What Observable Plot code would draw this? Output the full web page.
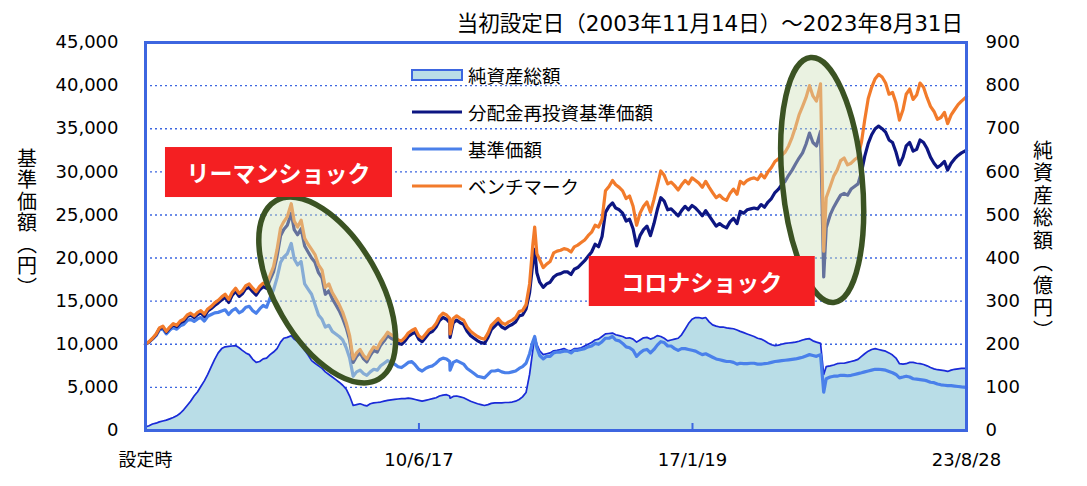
<!DOCTYPE html>
<html><head><meta charset="utf-8">
<script src="https://cdn.jsdelivr.net/npm/d3@7"></script>
<script src="https://cdn.jsdelivr.net/npm/@observablehq/plot@0.6"></script>
<style>
body{margin:0;background:#fff;}
#chart{width:1087px;height:486px;}
</style></head><body><div id="chart"></div>
<script>
// ---- data ----
const dates = [
"2003-11-14","2003-12-15",
"2004-01-15","2004-02-15","2004-03-15","2004-04-15","2004-05-15","2004-06-15","2004-07-15","2004-08-15","2004-09-15","2004-10-15","2004-11-15","2004-12-15",
"2005-01-15","2005-02-15","2005-03-15","2005-04-15","2005-05-15","2005-06-15","2005-07-15","2005-08-15","2005-09-15","2005-10-15","2005-11-15","2005-12-15",
"2006-01-15","2006-02-15","2006-03-15","2006-04-15","2006-05-15","2006-06-15","2006-07-15","2006-08-15","2006-09-15","2006-10-15","2006-11-15","2006-12-15",
"2007-01-15","2007-02-15","2007-03-15","2007-04-15","2007-05-20","2007-06-15","2007-07-15","2007-08-15","2007-09-15","2007-10-15","2007-11-15","2007-12-15",
"2008-01-15","2008-02-15","2008-03-15","2008-04-15","2008-05-15","2008-06-15","2008-07-15","2008-08-15","2008-09-15","2008-10-15","2008-11-15","2008-12-15",
"2009-01-15","2009-02-15","2009-03-15","2009-04-15","2009-05-15","2009-06-15","2009-07-15","2009-08-15","2009-09-15","2009-10-15","2009-11-15","2009-12-15",
"2010-01-15","2010-02-15","2010-03-15","2010-04-15","2010-05-15","2010-06-15","2010-07-15","2010-08-15","2010-09-15","2010-10-15","2010-11-15","2010-12-15",
"2011-01-15","2011-02-15","2011-03-15","2011-03-18","2011-04-15","2011-05-15","2011-06-15","2011-07-15","2011-08-15","2011-09-15","2011-10-15","2011-11-15","2011-12-15",
"2012-01-15","2012-02-15","2012-03-15","2012-04-15","2012-05-15","2012-06-15","2012-07-15","2012-08-15","2012-09-15","2012-10-15","2012-11-15","2012-12-15",
"2013-01-15","2013-02-15","2013-03-15","2013-04-01","2013-04-20","2013-05-15","2013-06-15","2013-07-15","2013-08-15","2013-09-15","2013-10-15","2013-11-15","2013-12-15",
"2014-01-15","2014-02-15","2014-03-15","2014-04-15","2014-05-15","2014-06-15","2014-07-15","2014-08-15","2014-09-15","2014-10-15","2014-11-15","2014-12-15",
"2015-01-15","2015-02-15","2015-03-15","2015-04-15","2015-05-15","2015-06-15","2015-07-15","2015-08-15","2015-09-15","2015-10-15","2015-11-15","2015-12-15",
"2016-01-15","2016-02-15","2016-03-15","2016-04-15","2016-05-15","2016-06-15","2016-07-15","2016-08-15","2016-09-15","2016-10-15","2016-11-15","2016-12-15",
"2017-01-15","2017-02-15","2017-03-15","2017-04-15","2017-05-15","2017-06-15","2017-07-15","2017-08-15","2017-09-15","2017-10-15","2017-11-15","2017-12-15",
"2018-01-15","2018-02-15","2018-03-15","2018-04-15","2018-05-15","2018-06-15","2018-07-15","2018-08-15","2018-09-15","2018-10-15","2018-11-15","2018-12-15",
"2019-01-15","2019-02-15","2019-03-15","2019-04-15","2019-05-15","2019-06-15","2019-07-15","2019-08-15","2019-09-15","2019-10-15","2019-11-15","2019-12-15",
"2020-01-15","2020-02-20","2020-03-19","2020-04-10","2020-05-15","2020-06-15","2020-07-15","2020-08-15","2020-09-15","2020-10-15","2020-11-15","2020-12-15",
"2021-01-15","2021-02-15","2021-03-15","2021-04-15","2021-05-15","2021-06-15","2021-07-15","2021-08-15","2021-09-15","2021-10-15","2021-11-15","2021-12-15",
"2022-01-15","2022-02-15","2022-03-15","2022-04-15","2022-05-15","2022-06-15","2022-07-15","2022-08-15","2022-09-15","2022-10-15","2022-11-15","2022-12-15",
"2023-01-15","2023-02-15","2023-03-15","2023-04-15","2023-05-15","2023-06-15","2023-07-15","2023-08-28"
];
// ベンチマーク (円)
const benchmark = [
10000,10300,
10700,11200,11900,12100,11500,12000,12400,12200,12700,12900,13400,13600,
13300,13700,13900,13500,14100,14400,14800,15100,15500,15800,15200,16000,
16500,15900,16200,16800,17000,16500,16100,16700,17100,16900,18000,19000,
21000,23500,24200,24800,26300,24300,23600,24400,22300,21600,21000,20400,
19200,18600,16600,17000,16000,15300,14600,13700,12500,11000,8300,9000,
9400,8700,8300,9100,9700,9500,10300,10800,11400,11100,10900,10500,
10400,10800,11300,11600,11800,11000,10700,11200,11700,11900,12400,13200,
13600,13400,13000,11200,13000,13300,13000,12800,12000,11500,11200,10900,10700,
10600,11300,12200,12600,13000,12500,12300,12600,12800,13100,13800,13900,
14600,17000,21500,23600,20500,19800,18900,19300,19600,20600,20800,20900,21100,
21000,20700,21300,21500,21800,22100,22600,23000,23800,23600,24500,27800,
28300,29000,28500,28200,27800,26900,27200,26000,23800,25200,26000,26500,
25300,26800,28400,30100,29600,28600,28800,28400,27900,28500,29000,28600,
29300,29000,28700,28200,28900,28200,27600,27000,27300,26900,26700,27500,
28000,27400,28900,28600,29000,29200,29300,29100,29700,29300,30000,30500,
31200,31500,31900,32300,33000,34000,35200,36600,37600,38600,40000,38800,
38200,40200,20800,27000,28300,29500,30200,31300,31600,30800,31000,31400,
31700,33500,36000,38500,39800,40800,41300,41000,40300,39000,39200,38000,
36000,37200,39000,39600,38400,38900,40300,39800,38600,37600,37000,36100,
36300,36900,35600,36600,37200,37800,38200,38700
];
// 分配金再投資基準価額 (円)
const reinvested = [
10000,10280,
10650,11100,11800,11980,11400,11880,12250,12050,12500,12700,13200,13400,
13100,13450,13650,13250,13850,14150,14500,14800,15150,15450,14850,15650,
16150,15550,15850,16450,16600,16100,15700,16300,16700,16500,17500,18400,
20200,22600,23300,23800,25200,23300,22700,23400,21400,20700,20000,19500,
18300,17700,15800,16200,15300,14600,13900,13000,11900,10500,7900,8600,
9000,8300,7950,8700,9300,9100,9900,10400,11000,10700,10500,10100,
10000,10400,10900,11200,11400,10600,10300,10800,11300,11500,12000,12750,
13100,12900,12500,10800,12500,12800,12500,12300,11500,11000,10700,10400,10200,
10100,10800,11700,12100,12500,12000,11800,12100,12300,12600,13300,13400,
14100,16000,19400,21000,18300,17200,16600,17000,17200,17800,18100,18200,18400,
18400,18100,18700,18900,19300,19700,20200,20700,21600,21300,22500,25300,
26000,26400,25800,25600,25200,24300,24500,23400,21400,22600,23300,23700,
22600,24000,25600,27000,26600,25600,25700,25300,24900,25500,26000,25600,
26100,25800,25400,24900,25500,24900,24300,23700,24000,23700,23500,24200,
24600,24000,25400,25200,25600,25700,25800,25700,26200,25900,26500,26900,
27600,28000,28500,28900,29600,30200,30900,31600,32200,33200,34500,33400,
33000,34700,17800,23500,25000,25900,26600,27300,27500,27300,28000,28300,
28600,30000,31800,33300,34300,35000,35300,35000,34600,33700,33400,32300,
30800,31700,33000,33400,32400,32600,33700,33400,32700,31700,31000,30500,
30800,31200,30200,31000,31500,31900,32200,32500
];
// 基準価額 (円)
const navPerUnit = [
10000,10250,
10600,11000,11650,11800,11200,11650,11950,11750,12150,12300,12750,12900,
12650,12950,13100,12700,13250,13450,13650,13700,13850,14000,13450,13900,
14150,13650,13850,14300,14400,13900,13600,14100,14500,14300,15400,16300,
17700,19500,20100,20500,21700,19900,19200,19600,17000,16400,15800,14600,
13400,12900,12000,12200,11500,11200,10900,10500,9600,8400,6300,6800,
7000,6600,6400,6800,7100,7000,7500,7800,8100,7900,7700,7400,
7300,7600,7900,8000,7600,7100,6900,7200,7400,7500,7800,8200,
8400,8300,8000,7000,7900,8100,7900,7700,7200,6900,6600,6300,6200,
6100,6500,6900,6900,7000,6800,6700,6700,6800,6900,7200,7400,
7800,8900,10300,10900,9600,8700,8300,8600,8600,9000,9100,9100,9200,
9200,9000,9300,9300,9400,9500,9700,9800,10100,10000,10300,10700,
10700,10900,10500,10400,10100,9700,9600,9300,8600,9000,9300,9400,
9000,9400,9900,10300,10200,9800,9800,9500,9300,9500,9500,9400,
9300,9200,9000,8800,8900,8700,8500,8300,8200,8100,8000,8000,
7900,7700,7800,7750,7750,7800,7800,7700,7700,7750,7800,7900,
8000,8050,8100,8150,8200,8250,8300,8400,8500,8650,8800,8700,
8600,8800,4450,6000,6200,6300,6300,6400,6400,6350,6400,6500,
6600,6700,6800,6900,7000,7100,7100,7050,7000,6850,6700,6500,
6100,6200,6300,6200,6000,5950,5900,5850,5750,5600,5550,5400,
5300,5250,5200,5200,5150,5100,5050,5000
];
// 純資産総額 (億円)
const netAssets = [
8,11,
15,17,20,22,24,27,30,34,40,48,58,68,
80,90,102,115,130,148,165,180,190,194,195,196,
197,192,186,180,176,165,158,160,166,168,176,182,
190,205,214,216,220,212,206,198,186,175,162,156,
150,144,136,130,124,118,112,105,96,80,58,60,
62,59,57,62,64,65,66,68,70,71,72,73,
74,74,75,74,72,70,68,70,72,74,76,80,
82,83,80,75,79,80,78,76,72,68,65,62,60,
58,60,63,64,64,64,65,65,66,68,72,78,
88,130,185,218,200,185,176,178,180,185,186,188,190,
186,185,190,190,192,196,200,204,210,212,218,224,
225,226,222,220,218,214,215,212,205,210,215,216,
212,215,220,218,214,208,210,212,214,222,235,248,
258,262,262,260,262,252,245,242,240,240,238,237,
236,233,230,227,224,221,218,214,212,208,203,199,
197,198,200,202,203,204,205,207,210,212,213,208,
205,202,130,148,150,152,155,156,156,158,160,162,
165,172,178,184,188,190,188,186,184,180,175,168,
155,154,155,158,158,156,155,153,150,146,143,141,
140,139,137,140,142,143,144,144
];
const yTicks = [0,5000,10000,15000,20000,25000,30000,35000,40000,45000];
const xTickDates = ["2003-11-14","2010-06-17","2017-01-19","2023-08-28"];
const xTickLabels = ["設定時","10/6/17","17/1/19","23/8/28"];
const seriesNames = ["純資産総額","分配金再投資基準価額","基準価額","ベンチマーク"];
const titleText = "当初設定日（2003年11月14日）～2023年8月31日";
const leftTitle = "基準価額（円）";
const rightTitle = "純資産総額（億円）";
const shockLabels = ["リーマンショック","コロナショック"];
const RATIO = 50; // 900億円 ↔ 45,000円

// ---- styles ----
const C = {frame:"#3d66e0", area:"#b9dde7", assets:"#1a2ad8", nav:"#4a80ea", reinv:"#0d1682", bench:"#f27b2b", red:"#f41f22", ell:"#3b5323"};
const JP = "'Noto Sans CJK JP', sans-serif";

const parse = d3.utcParse("%Y-%m-%d");
const rows = dates.map((d,i)=>({date:parse(d), bench:benchmark[i], reinv:reinvested[i], nav:navPerUnit[i], assets:netAssets[i]*RATIO}));
const tickDates = xTickDates.map(parse);
const labelMap = new Map(tickDates.map((d,i)=>[+d, xTickLabels[i]]));

const plot = Plot.plot({
  width:1087, height:486,
  marginLeft:145, marginRight:121, marginTop:42, marginBottom:56,
  x:{type:"utc", domain:[tickDates[0], tickDates[3]], label:null},
  y:{domain:[0,45000], label:null},
  style:{fontFamily:"'DejaVu Sans', 'Noto Sans CJK JP', sans-serif", fontSize:"18px", color:"#000", background:"#fff"},
  marks:[
    Plot.gridY(yTicks,{stroke:C.frame, strokeOpacity:1, strokeDasharray:"2,3", strokeWidth:1.4}),
    Plot.areaY(rows,{x:"date", y:"assets", fill:C.area}),
    Plot.lineY(rows,{x:"date", y:"assets", stroke:C.assets, strokeWidth:1.7}),
    Plot.lineY(rows,{x:"date", y:"nav", stroke:C.nav, strokeWidth:3.2}),
    Plot.lineY(rows,{x:"date", y:"reinv", stroke:C.reinv, strokeWidth:3.2}),
    Plot.lineY(rows,{x:"date", y:"bench", stroke:C.bench, strokeWidth:3.2}),
    Plot.axisY(yTicks,{anchor:"left", tickSize:0, tickPadding:27, tickFormat:d3.format(","), fontSize:18, label:null}),
    Plot.axisY(yTicks,{anchor:"right", tickSize:0, tickPadding:19, tickFormat:d=>String(d/RATIO), fontSize:18, label:null}),
    Plot.axisX(tickDates,{anchor:"bottom", tickSize:0, tickPadding:23, tickFormat:d=>labelMap.get(+d), fontSize:18, label:null}),
    Plot.axisX(tickDates,{anchor:"bottom", tickSize:-7, tickFormat:()=>"", stroke:C.frame, strokeWidth:2, label:null}),
    Plot.frame({stroke:C.frame, strokeWidth:3})
  ]
});
document.getElementById("chart").appendChild(plot);

// ---- annotations ----
const svg = d3.select(plot);
const sx = plot.scale("x"), sy = plot.scale("y");
const ellipses = [
  {date:"2008-04-05", value:16240, rx:103, ry:52, rot:60},
  {date:"2020-03-10", value:29000, rx:123, ry:40, rot:84.6}
];
for (const e of ellipses) {
  const cx = sx.apply(parse(e.date)), cy = sy.apply(e.value);
  svg.append("ellipse").attr("cx",0).attr("cy",0).attr("rx",e.rx).attr("ry",e.ry)
    .attr("transform",`translate(${cx},${cy}) rotate(${e.rot})`)
    .attr("fill","#d0e2bc").attr("fill-opacity",0.45).attr("stroke",C.ell).attr("stroke-width",5.5);
}
const boxes = [
  {date:"2007-02-01", value:29920, w:227, h:50},
  {date:"2017-04-15", value:17280, w:226, h:50}
];
boxes.forEach((b,i)=>{
  const cx = sx.apply(parse(b.date)), cy = sy.apply(b.value);
  svg.append("rect").attr("x",cx-b.w/2).attr("y",cy-b.h/2).attr("width",b.w).attr("height",b.h).attr("fill",C.red);
  svg.append("text").attr("x",cx).attr("y",cy).attr("text-anchor","middle").attr("dominant-baseline","central")
    .attr("fill","#fff").attr("font-family",JP).attr("font-weight","bold").attr("font-size",23).text(shockLabels[i]);
});
// legend
const lg = svg.append("g").attr("font-family",JP).attr("font-size",18.5).attr("text-anchor","start");
lg.append("rect").attr("x",412).attr("y",70).attr("width",50).attr("height",10).attr("fill",C.area).attr("stroke",C.frame).attr("stroke-width",2);
[[C.reinv,112],[C.nav,149],[C.bench,186]].forEach(([c,y])=>{
  lg.append("line").attr("x1",412).attr("x2",462).attr("y1",y).attr("y2",y).attr("stroke",c).attr("stroke-width",3);
});
[75,112,149,186].forEach((y,i)=>{
  lg.append("text").attr("x",468).attr("y",y).attr("text-anchor","start").attr("dominant-baseline","central").attr("fill","#000").text(seriesNames[i]);
});
// title
svg.append("text").attr("x",963).attr("y",23).attr("text-anchor","end").attr("dominant-baseline","central")
  .attr("font-family","'DejaVu Sans','Noto Sans CJK JP',sans-serif").attr("font-size",21.5).attr("fill","#000").text(titleText);
// axis titles (vertical)
svg.append("text").attr("x",27).attr("y",148).attr("text-anchor","start").style("writing-mode","vertical-rl").style("letter-spacing","1.5px")
  .attr("font-family",JP).attr("font-size",20).attr("fill","#000").text(leftTitle);
svg.append("text").attr("x",1043).attr("y",140).attr("text-anchor","start").style("writing-mode","vertical-rl").style("letter-spacing","2.5px")
  .attr("font-family",JP).attr("font-size",20).attr("fill","#000").text(rightTitle);
</script></body></html>
